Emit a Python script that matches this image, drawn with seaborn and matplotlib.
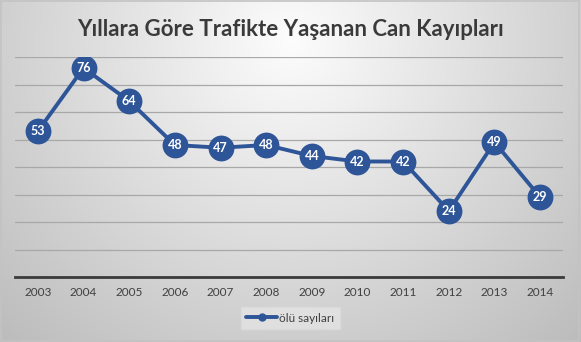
import numpy as np
import pandas as pd
import matplotlib
matplotlib.use("Agg")
import matplotlib.pyplot as plt
import seaborn as sns
from matplotlib.lines import Line2D

years = ["2003", "2004", "2005", "2006", "2007", "2008", "2009", "2010", "2011", "2012", "2013", "2014"]
deaths = [53, 76, 64, 48, 47, 48, 44, 42, 42, 24, 49, 29]
series_name = "ölü sayıları"
title = "Yıllara Göre Trafikte Yaşanan Can Kayıpları"

sns.set_theme(style="white")
plt.rcParams["font.family"] = ["Lato", "DejaVu Sans"]

W, H = 581, 342
fig = plt.figure(figsize=(W / 100, H / 100), dpi=100)

# radial grey gradient behind everything
bg = fig.add_axes([0, 0, 1, 1], zorder=-10)
yy, xx = np.mgrid[0:H, 0:W]
d = np.sqrt(((xx - W * 0.5) / (W * 0.6)) ** 2 + ((yy - H * 0.12) / (H * 1.0)) ** 2)
g = np.clip(0.99 - 0.21 * d, 0, 1)
bg.imshow(np.dstack([g, g, g]), aspect="auto", extent=[0, 1, 0, 1], origin="upper")
bg.set_xlim(0, 1)
bg.set_ylim(0, 1)
bg.axis("off")
bg.add_patch(plt.Rectangle((0.002, 0.003), 0.995, 0.993, fill=False,
                           edgecolor="#c3c3c3", lw=1.2, transform=bg.transAxes))

left, right = 15 / W, 563 / W
bottom, top = 1 - 277 / H, 1 - 57 / H
ax = fig.add_axes([left, bottom, right - left, top - bottom])
ax.set_facecolor("none")

df = pd.DataFrame({"year": years, "value": deaths})
blue = "#2E5597"
sns.pointplot(data=df, x="year", y="value", color=blue, markers="o",
              markersize=16.5, linewidth=2.8, ax=ax, zorder=3)

for i, v in enumerate(deaths):
    ax.text(i, v, str(v), ha="center", va="center", color="white",
            fontsize=9, fontweight="bold", zorder=5)

ax.set_xlim(-0.5, len(years) - 0.5)
ax.set_ylim(0, 80)
ax.set_yticks(np.arange(10, 81, 10))
ax.yaxis.grid(True, color="#a8a8a8", lw=0.9)
ax.set_axisbelow(True)
ax.tick_params(axis="y", left=False, labelleft=False)
ax.tick_params(axis="x", bottom=False, labelsize=8.5, labelcolor="#404040", pad=1.5)
for s in ["left", "right", "top"]:
    ax.spines[s].set_visible(False)
ax.spines["bottom"].set_color("#3a3a3a")
ax.spines["bottom"].set_linewidth(2)
ax.set_xlabel("")
ax.set_ylabel("")

fig.text(0.5, 1 - 30 / H, title, ha="center", va="center", fontsize=16,
         fontweight="bold", color="#3a3a3a")

handle = Line2D([], [], color=blue, lw=2.8, marker="o", markersize=5)
leg = fig.legend([handle], [series_name], loc="center", bbox_to_anchor=(0.5, 1 - 318 / H),
                 frameon=True, fontsize=8.5, handlelength=2.6, handletextpad=0.2,
                 borderpad=0.5, fancybox=False)
leg.get_frame().set_facecolor("#e4e4e4")
leg.get_frame().set_edgecolor("#dcdcdc")
for t in leg.get_texts():
    t.set_color("#404040")

fig.savefig("out.png", dpi=100)
